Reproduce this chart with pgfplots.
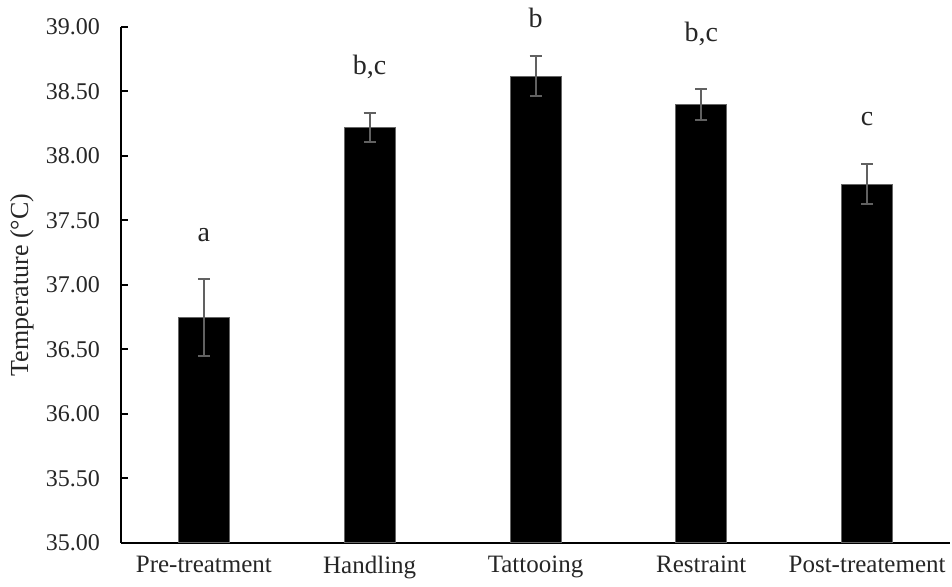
\documentclass[border=0pt]{standalone}
\usepackage{fontspec}
\setmainfont{Liberation Serif}
\usepackage{pgfplots}
\pgfplotsset{compat=1.18}
\begin{document}
\begin{tikzpicture}
\useasboundingbox (-60.5pt,-22pt) rectangle (415.5pt,271.5pt);
\begin{axis}[
  scale only axis,
  width=414.5pt, height=258pt,
  xmin=-0.5, xmax=4.5,
  ymin=35, ymax=39,
  ytick={35,35.5,...,39},
  xtick={0,1,2,3,4},
  xticklabels={Pre-treatment,Handling,Tattooing,Restraint,Post-treatement},
  axis x line=bottom, axis y line=left,
  axis line style={-, line width=1pt, black},
  tick align=inside,
  major y tick style={line width=1pt, black},
  major tick length=3.5pt,
  major x tick style={draw=none},
  yticklabel style={/pgf/number format/fixed, /pgf/number format/fixed zerofill, /pgf/number format/precision=2, xshift=-7pt, text=black!85, font=\fontsize{12pt}{14pt}\selectfont},
  xticklabel style={text=black!85, font=\fontsize{12.5pt}{14pt}\selectfont, yshift=-3pt},
  /pgf/number format/assume math mode=true,
  ylabel={Temperature (°C)},
  every axis y label/.style={at={(axis description cs:0,0.5)}, xshift=-49.5pt, rotate=90, anchor=center, text=black!85, font=\fontsize{13pt}{15pt}\selectfont},
  clip=false,
]
\addplot[ybar, bar width=25.5pt, fill=black, draw=black!60, line width=0.5pt,
  error bars/.cd, y dir=both, y explicit, error mark=|,
  error bar style={line width=1pt, black!62},
  error mark options={line width=1pt, black!62, mark size=3pt}]
  coordinates {
  (0,36.75) +- (0,0.30)
  (1,38.22) +- (0,0.115)
  (2,38.62) +- (0,0.155)
  (3,38.40) +- (0,0.12)
  (4,37.78) +- (0,0.155)
  };
\addplot[draw=none, mark=none, nodes near coords, point meta=explicit symbolic,
  nodes near coords style={anchor=center, text=black!85, font=\fontsize{14pt}{16pt}\selectfont}]
  coordinates {
  (0,37.39) [a]
  (1,38.69) [{b,c}]
  (2,39.07) [b]
  (3,38.95) [{b,c}]
  (4,38.29) [c]
  };
\end{axis}
\end{tikzpicture}
\end{document}
